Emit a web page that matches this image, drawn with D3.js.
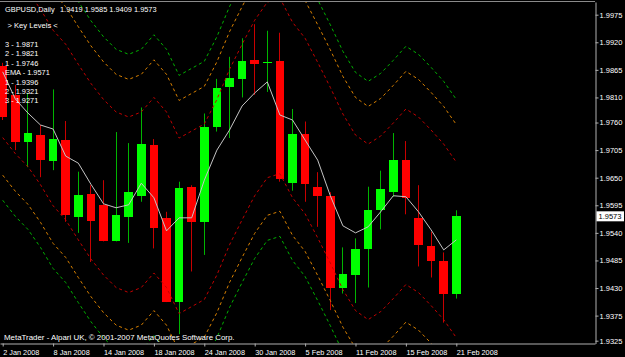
<!DOCTYPE html>
<html>
<head>
<meta charset="utf-8">
<script src="https://cdn.jsdelivr.net/npm/d3@7"></script>
<style>
  body { margin: 0; background: #000; }
  svg { display: block; }
  text { font-family: "Liberation Sans", Arial, sans-serif; fill: #fff; }
</style>
</head>
<body>
<div id="chart"></div>
<script>
var svgWidth = 625;
var svgHeight = 357;

// trading days shown on the chart
var dates = ["2 Jan 2008", "3 Jan 2008", "4 Jan 2008", "7 Jan 2008", "8 Jan 2008", "9 Jan 2008", "10 Jan 2008",
    "11 Jan 2008", "14 Jan 2008", "15 Jan 2008", "16 Jan 2008", "17 Jan 2008", "18 Jan 2008", "21 Jan 2008",
    "22 Jan 2008", "23 Jan 2008", "24 Jan 2008", "25 Jan 2008", "28 Jan 2008", "29 Jan 2008", "30 Jan 2008",
    "31 Jan 2008", "1 Feb 2008", "4 Feb 2008", "5 Feb 2008", "6 Feb 2008", "7 Feb 2008", "8 Feb 2008",
    "11 Feb 2008", "12 Feb 2008", "13 Feb 2008", "14 Feb 2008", "15 Feb 2008", "18 Feb 2008", "19 Feb 2008",
    "20 Feb 2008", "21 Feb 2008"];

var open = [1.9873, 1.9815, 1.9722, 1.9735, 1.9683, 1.9725, 1.9572, 1.9618, 1.9596, 1.9524, 1.9572, 1.9614, 1.9715,
    1.9569, 1.9403, 1.9632, 1.9561, 1.9752, 1.9830, 1.9846, 1.9885, 1.9878, 1.9883, 1.9640, 1.9738, 1.9631, 1.9614,
    1.9431, 1.9456, 1.9508, 1.9586, 1.9622, 1.9686, 1.9570, 1.9514, 1.9484, 1.9419];
var high = [1.9879, 1.9835, 1.9819, 1.9755, 1.9826, 1.9763, 1.9662, 1.9635, 1.9645, 1.9741, 1.9719, 1.9790, 1.9727,
    1.9582, 1.9642, 1.9635, 1.9778, 1.9847, 1.9891, 1.9928, 1.9956, 1.9943, 1.9939, 1.9787, 1.9762, 1.9661, 1.9621,
    1.9511, 1.9529, 1.9632, 1.9664, 1.9739, 1.9723, 1.9635, 1.9542, 1.9501, 1.9585];
var low = [1.9765, 1.9705, 1.9671, 1.9651, 1.9665, 1.9562, 1.9540, 1.9482, 1.9523, 1.9523, 1.9520, 1.9602, 1.9509,
    1.9402, 1.9338, 1.9463, 1.9496, 1.9742, 1.9729, 1.9810, 1.9815, 1.9821, 1.9642, 1.9624, 1.9602, 1.9552, 1.9386,
    1.9419, 1.9400, 1.9431, 1.9547, 1.9612, 1.9577, 1.9473, 1.9451, 1.9361, 1.9409];
var close = [1.9771, 1.9722, 1.9739, 1.9685, 1.9727, 1.9576, 1.9616, 1.9564, 1.9524, 1.9576, 1.9622, 1.9717, 1.9549,
    1.9403, 1.9629, 1.9561, 1.9752, 1.9829, 1.9848, 1.9883, 1.9877, 1.9881, 1.9647, 1.9737, 1.9637, 1.9614, 1.9431,
    1.9457, 1.9508, 1.9586, 1.9627, 1.9685, 1.9609, 1.9516, 1.9484, 1.9418, 1.9573];

var ema = [1.9861, 1.9807, 1.9779, 1.9755, 1.9747, 1.9693, 1.9679, 1.9637, 1.9598, 1.9590, 1.9596, 1.9639, 1.9610,
    1.9544, 1.9570, 1.9570, 1.9645, 1.9705, 1.9745, 1.9793, 1.9819, 1.9841, 1.9775, 1.9765, 1.9725, 1.9685, 1.9614,
    1.9554, 1.9540, 1.9552, 1.9582, 1.9614, 1.9612, 1.9582, 1.9546, 1.9506, 1.9526];

// key level bands (dashed)
var upper1 = [2.0080, 2.0048, 2.0022, 1.9986, 1.9944, 1.9916, 1.9876, 1.9838, 1.9806, 1.9781, 1.9771, 1.9781, 1.9810,
    1.9781, 1.9729, 1.9743, 1.9757, 1.9806, 1.9866, 1.9916, 1.9964, 2.0000, 2.0008, 1.9960, 1.9928, 1.9880, 1.9830,
    1.9777, 1.9735, 1.9717, 1.9733, 1.9759, 1.9787, 1.9771, 1.9745, 1.9717, 1.9681];
var upper2 = [2.0155, 2.0123, 2.0097, 2.0061, 2.0019, 1.9991, 1.9951, 1.9913, 1.9881, 1.9856, 1.9846, 1.9856, 1.9885,
    1.9856, 1.9804, 1.9818, 1.9832, 1.9881, 1.9941, 1.9991, 2.0039, 2.0075, 2.0083, 2.0035, 2.0003, 1.9955, 1.9905,
    1.9852, 1.9810, 1.9792, 1.9808, 1.9834, 1.9862, 1.9846, 1.9820, 1.9792, 1.9756];
var upper3 = [2.0205, 2.0173, 2.0147, 2.0111, 2.0069, 2.0041, 2.0001, 1.9963, 1.9931, 1.9906, 1.9896, 1.9906, 1.9935,
    1.9906, 1.9854, 1.9868, 1.9882, 1.9931, 1.9991, 2.0041, 2.0089, 2.0125, 2.0133, 2.0085, 2.0053, 2.0005, 1.9955,
    1.9902, 1.9860, 1.9842, 1.9858, 1.9884, 1.9912, 1.9896, 1.9870, 1.9842, 1.9806];
var lower1 = [1.9730, 1.9698, 1.9672, 1.9636, 1.9594, 1.9566, 1.9526, 1.9488, 1.9456, 1.9431, 1.9421, 1.9431, 1.9460,
    1.9431, 1.9379, 1.9393, 1.9407, 1.9456, 1.9516, 1.9566, 1.9614, 1.9650, 1.9658, 1.9610, 1.9578, 1.9530, 1.9480,
    1.9427, 1.9385, 1.9367, 1.9383, 1.9409, 1.9437, 1.9421, 1.9395, 1.9367, 1.9331];
var lower2 = [1.9655, 1.9623, 1.9597, 1.9561, 1.9519, 1.9491, 1.9451, 1.9413, 1.9381, 1.9356, 1.9346, 1.9356, 1.9385,
    1.9356, 1.9304, 1.9318, 1.9332, 1.9381, 1.9441, 1.9491, 1.9539, 1.9575, 1.9583, 1.9535, 1.9503, 1.9455, 1.9405,
    1.9352, 1.9310, 1.9292, 1.9308, 1.9334, 1.9362, 1.9346, 1.9320, 1.9292, 1.9256];
var lower3 = [1.9605, 1.9573, 1.9547, 1.9511, 1.9469, 1.9441, 1.9401, 1.9363, 1.9331, 1.9306, 1.9296, 1.9306, 1.9335,
    1.9306, 1.9254, 1.9268, 1.9282, 1.9331, 1.9391, 1.9441, 1.9489, 1.9525, 1.9533, 1.9485, 1.9453, 1.9405, 1.9355,
    1.9302, 1.9260, 1.9242, 1.9258, 1.9284, 1.9312, 1.9296, 1.9270, 1.9242, 1.9206];

var priceTicks = [1.9975, 1.9920, 1.9865, 1.9810, 1.9760, 1.9705, 1.9650, 1.9595, 1.9540, 1.9485, 1.9430, 1.9375, 1.9325];
var dateTicks = [0, 4, 8, 12, 16, 20, 24, 28, 32, 36];

var titleName = "GBPUSD,Daily";
var titleValues = ["1.9419", "1.9585", "1.9409", "1.9573"];
var keyLevels = ["3 - 1.9871", "2 - 1.9821", "1 - 1.9746", "EMA - 1.9571", "1 - 1.9396", "2 - 1.9321", "3 - 1.9271"];
var lastPrice = 1.9573;
var copyright = "MetaTrader - Alpari UK, \u00a9 2001-2007 MetaQuotes Software Corp.";

var plot = { left: 0, top: 2, right: 595, bottom: 343.5 };

var svg = d3.select("#chart")
    .append("svg")
    .attr("width", svgWidth)
    .attr("height", svgHeight)
    .style("background", "#000");

var x = d3.scaleLinear()
    .domain([-0.2143, 47.008])
    .range([plot.left, plot.right]);

var y = d3.scaleLinear()
    .domain([1.93194, 2.00003])
    .range([plot.bottom, plot.top]);

svg.append("clipPath").attr("id", "clip")
    .append("rect")
    .attr("x", plot.left).attr("y", plot.top)
    .attr("width", plot.right - plot.left).attr("height", plot.bottom - plot.top);

var chart = svg.append("g").attr("clip-path", "url(#clip)");

var bars = dates.map(function (d, i) {
    return { i: i, o: open[i], h: high[i], l: low[i], c: close[i], up: close[i] >= open[i] };
});

// wicks
chart.append("g").selectAll("line")
    .data(bars)
    .enter()
    .append("line")
    .attr("x1", d => Math.floor(x(d.i)) + 0.5)
    .attr("x2", d => Math.floor(x(d.i)) + 0.5)
    .attr("y1", d => y(d.h))
    .attr("y2", d => y(d.l))
    .attr("stroke", d => d.up ? "#00b400" : "#c80000")
    .attr("stroke-width", 1);

// bodies
var bodyW = 8.6;
chart.append("g").selectAll("rect")
    .data(bars)
    .enter()
    .append("rect")
    .attr("x", d => x(d.i) - bodyW / 2)
    .attr("width", bodyW)
    .attr("y", d => y(Math.max(d.o, d.c)))
    .attr("height", d => Math.max(1.5, Math.abs(y(d.o) - y(d.c))))
    .attr("fill", d => d.up ? "#00ff00" : "#ff0000")
    .attr("shape-rendering", "crispEdges");

// bands
var line = d3.line()
    .x((d, i) => x(i))
    .y(d => y(d))
    .curve(d3.curveLinear);

var bands = [
    { values: upper3, color: "#00b000" },
    { values: upper2, color: "#d88000" },
    { values: upper1, color: "#c00000" },
    { values: lower1, color: "#c00000" },
    { values: lower2, color: "#d88000" },
    { values: lower3, color: "#00b000" }
];

chart.append("g").selectAll("path")
    .data(bands)
    .enter()
    .append("path")
    .attr("d", d => line(d.values))
    .attr("fill", "none")
    .attr("stroke", d => d.color)
    .attr("stroke-width", 1)
    .attr("stroke-dasharray", "3,3");

// EMA
chart.append("path")
    .attr("d", line(ema))
    .attr("fill", "none")
    .attr("stroke", "#c4c4c4")
    .attr("stroke-width", 1);

// frame top
svg.append("line")
    .attr("x1", plot.left).attr("x2", plot.right)
    .attr("y1", 1.5).attr("y2", 1.5)
    .attr("stroke", "#8a8a8a");

// price axis
var yAxis = d3.axisRight(y)
    .tickValues(priceTicks)
    .tickFormat(d3.format(".4f"))
    .tickSize(3)
    .tickSizeOuter(0)
    .tickPadding(1);

var yAxisG = svg.append("g")
    .attr("transform", `translate(${plot.right + 0.5}, 0)`)
    .call(yAxis);
yAxisG.select(".domain").attr("stroke", "#b0b0b0");
yAxisG.selectAll(".tick line").attr("stroke", "#b0b0b0");
yAxisG.selectAll(".tick text")
    .attr("fill", "#fff")
    .style("font-size", "7.5px")
    .style("font-family", "'Liberation Sans', Arial, sans-serif");

// date axis
var xAxis = d3.axisBottom(x)
    .tickValues(dateTicks)
    .tickFormat(i => dates[i])
    .tickSize(3)
    .tickSizeOuter(0);

var xAxisG = svg.append("g")
    .attr("transform", `translate(0, ${plot.bottom})`)
    .call(xAxis);
xAxisG.select(".domain").attr("stroke", "#b0b0b0");
xAxisG.selectAll(".tick line").attr("stroke", "#b0b0b0");
xAxisG.selectAll(".tick text")
    .attr("fill", "#fff")
    .attr("text-anchor", "start")
    .attr("x", 0)
    .style("font-size", "7.3px")
    .style("font-family", "'Liberation Sans', Arial, sans-serif");

// last price box
svg.append("rect")
    .attr("x", plot.right + 1.5)
    .attr("y", y(lastPrice) - 5)
    .attr("width", 27.5)
    .attr("height", 10)
    .attr("fill", "#fff");
svg.append("text")
    .attr("x", plot.right + 3.5)
    .attr("y", y(lastPrice))
    .attr("dy", "0.33em")
    .style("font-size", "7.5px")
    .style("fill", "#000")
    .text(d3.format(".4f")(lastPrice));

// title
var title = svg.append("text")
    .attr("y", 11.5)
    .style("font-size", "7.4px")
    .style("white-space", "pre");
title.append("tspan").attr("x", 5).text(titleName);
title.append("tspan").attr("x", 60).text(titleValues.join(" "));

// key levels block
svg.append("text")
    .attr("x", 7.5)
    .attr("y", 28)
    .style("font-size", "7.6px")
    .text("> Key Levels <");

svg.append("g").selectAll("text")
    .data(keyLevels)
    .enter()
    .append("text")
    .attr("x", 5)
    .attr("y", (d, i) => 47 + i * 9.4)
    .style("font-size", "7.4px")
    .text(d => d);

// copyright
svg.append("text")
    .attr("x", 4)
    .attr("y", 340)
    .style("font-size", "7.9px")
    .text(copyright);
</script>
</body>
</html>
